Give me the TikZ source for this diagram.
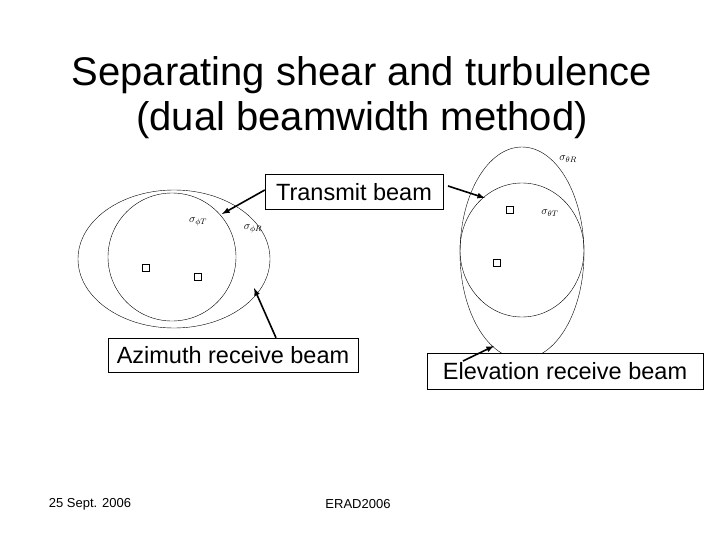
\documentclass[tikz,border=0pt]{standalone}
\usepackage{fontspec}
\setmainfont{Liberation Sans}
\newfontfamily\serif{Liberation Serif}
\begin{document}
\begin{tikzpicture}[x=1pt,y=-1pt,
  lbl/.style={draw,thin,fill=white,inner sep=3pt,font=\fontsize{23.5}{26}\selectfont},
  arr/.style={-latex,line width=1.6pt},
  sq/.style={draw,thin,minimum size=7pt,inner sep=0pt},
  sig/.style={font=\serif\fontsize{11}{12}\selectfont,inner sep=0pt},
  shp/.style={thin}]
\useasboundingbox (0,0) rectangle (720,540);
\node[align=center,font=\fontsize{40}{45}\selectfont] (title) at (362,98) {Separating shear and turbulence\\(dual beamwidth method)};
% left
\draw[shp] (174,259) ellipse [x radius=96,y radius=69];
\draw[shp] (172,257) ellipse [x radius=64,y radius=64];
\node[sig] (s1) at (198,222) {$\sigma_{\phi T}$};
\node[sig] (s2) at (253,229) {$\sigma_{\phi R}$};
\node[sq] (q1) at (146,268) {};
\node[sq] (q2) at (198,277) {};
% right
\draw[shp] (522,253) ellipse [x radius=62,y radius=106];
\draw[shp] (522,250) ellipse [x radius=62,y radius=67];
\node[sig] (s3) at (568,159) {$\sigma_{\theta R}$};
\node[sig] (s4) at (550,213) {$\sigma_{\theta T}$};
\node[sq] (q3) at (510,210) {};
\node[sq] (q4) at (497,263) {};
% labels
\node[lbl,minimum width=178pt,minimum height=35pt] (tb) at (354,192) {Transmit beam};
\node[lbl,minimum width=250pt,minimum height=34pt] (ab) at (233,355) {Azimuth receive beam};
\node[lbl,minimum width=276pt,minimum height=36pt] (eb) at (565,371) {Elevation receive beam};
\coordinate (t1) at (222,214);
\coordinate (t2) at (485,198);
\coordinate (a1) at (254,288);
\coordinate (e1) at (494,346);
\coordinate (e0) at (463,361);
\draw[arr] (tb.west) ++(0,-2) -- (t1);
\draw[arr] (448,186) -- (t2);
\draw[arr] (ab.north) ++(43,0) -- (a1);
\draw[arr] (e0) -- (e1);
\node[font=\fontsize{13}{14}\selectfont] (d) at (90,504) {25 Sept. 2006};
\node[font=\fontsize{13}{14}\selectfont] (e) at (358,504) {ERAD2006};
\end{tikzpicture}
\end{document}
